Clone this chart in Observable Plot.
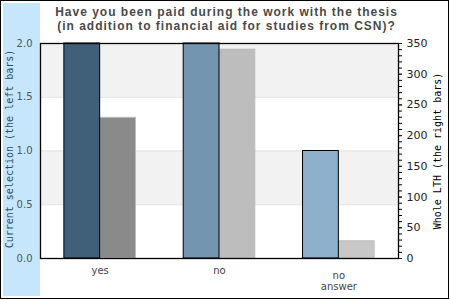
<!DOCTYPE html>
<html>
<head>
<meta charset="utf-8">
<script src="https://cdn.jsdelivr.net/npm/d3@7"></script>
<script src="https://cdn.jsdelivr.net/npm/@observablehq/plot@0.6"></script>
<style>
  html, body { margin: 0; padding: 0; background: #fff; }
  #wrap { position: relative; width: 450px; height: 300px; background: #fff; overflow: hidden; }
  #border { position: absolute; left: 0; top: 0; width: 447px; height: 297px; border: 1px solid #000; }
  #band { position: absolute; left: 3px; top: 3px; width: 37px; height: 293px; background: #c6e6fc; }
  #title { position: absolute; left: 0; top: 5px; width: 453px; text-align: center; letter-spacing: 1px;
           font: bold 12px "Liberation Sans", Arial, sans-serif; line-height: 14px; color: #4a4a4a; }
  #chart { position: absolute; left: 0; top: 0; }
</style>
</head>
<body>
<div id="wrap">
  <div id="border"></div>
  <div id="band"></div>
  <div id="chart"></div>
  <div id="title"></div>
</div>
<script>
// ---- data ----
const titleLines = ["Have you been paid during the work with the thesis",
                    "(in addition to financial aid for studies from CSN)?"];
const categories = ["yes", "no", "no\nanswer"];
const currentSelection = [2, 2, 1];          // left axis (0–2)
const wholeLTH = [229, 340, 28];             // right axis (0–350)
const leftColors = ["#40607a", "#7395b0", "#8fb0cb"];
const rightColors = ["#8a8a8a", "#bdbdbd", "#c8c8c8"];
const leftTicks = [0, 0.5, 1, 1.5, 2];
const rightTicks = [0, 50, 100, 150, 200, 250, 300, 350];
const rightMinorStep = 10;
const leftLabel = "Current selection (the left bars)";
const rightLabel = "Whole LTH (the right bars)";

// ---- build ----
document.getElementById("title").innerHTML = titleLines.join("<br>");

const leftMax = 2, rightMax = 350;
const toLeft = v => v * leftMax / rightMax;   // map right-axis values into left scale units
const idx = categories.map((_, i) => i);
const minor = d3.range(0, rightMax + 1, rightMinorStep);
const shadeBands = [0.5, 1.5];
const barW = 0.3;

const chart = Plot.plot({
  width: 450,
  height: 300,
  marginLeft: 40,
  marginRight: 52,
  marginTop: 43,
  marginBottom: 42,
  style: { background: "transparent", fontFamily: "DejaVu Sans, sans-serif", fontSize: "10px", overflow: "visible" },
  x: { domain: [-0.5, categories.length - 0.5], axis: null },
  y: { domain: [0, leftMax], axis: null },
  color: { type: "identity" },
  marks: [
    Plot.rect(shadeBands, { y1: d => d, y2: d => d + 0.5, fill: "#f2f2f2" }),
    Plot.ruleY([0.5, 1, 1.5], { stroke: "#e2e2e2" }),
    Plot.rect(idx, { x1: i => i, x2: i => i + barW, y1: 0, y2: i => toLeft(wholeLTH[i]),
                     fill: i => rightColors[i], stroke: "#bbbbbb", strokeWidth: 1 }),
    Plot.rect(idx, { x1: i => i - barW, x2: i => i, y1: 0, y2: i => currentSelection[i],
                     fill: i => leftColors[i], stroke: "#000", strokeWidth: 1 }),
    Plot.frame({ stroke: "#000", strokeWidth: 1.3 }),
    Plot.axisY(leftTicks, { anchor: "left", tickSize: 0, tickPadding: 8, label: null,
                            tickFormat: d3.format(".1f"), color: "#555", fontSize: 10 }),
    Plot.axisY(minor.map(toLeft), { anchor: "right", tickSize: 3, label: null,
                            tickFormat: () => "", stroke: "#000" }),
    Plot.axisY(rightTicks.map(toLeft), { anchor: "right", tickSize: 3, tickPadding: 5, label: null,
                            tickFormat: d => String(Math.round(d * rightMax / leftMax)),
                            color: "#222", fontSize: 11 }),
    Plot.text(idx.filter(i => !categories[i].includes("\n")), {
      x: i => i, y: 0, text: i => categories[i], lineAnchor: "top", dy: 8, fill: "#444", fontSize: 10 }),
    Plot.text(idx.filter(i => categories[i].includes("\n")), {
      x: i => i, y: 0, text: i => categories[i], lineAnchor: "top", dy: 12, lineHeight: 1.15, fill: "#444", fontSize: 10 }),
    Plot.text([leftLabel], { frameAnchor: "left", rotate: -90, dx: -31, dy: -2, text: d => d,
      textAnchor: "middle", lineAnchor: "middle",
      fontFamily: "DejaVu Sans Mono, monospace", fontSize: 10, fill: "#2e4d6b" }),
    Plot.text([rightLabel], { frameAnchor: "right", rotate: -90, dx: 39, text: d => d,
      textAnchor: "middle", lineAnchor: "middle",
      fontFamily: "DejaVu Sans Mono, monospace", fontSize: 10, fill: "#000" })
  ]
});
document.getElementById("chart").appendChild(chart);
</script>
</body>
</html>
